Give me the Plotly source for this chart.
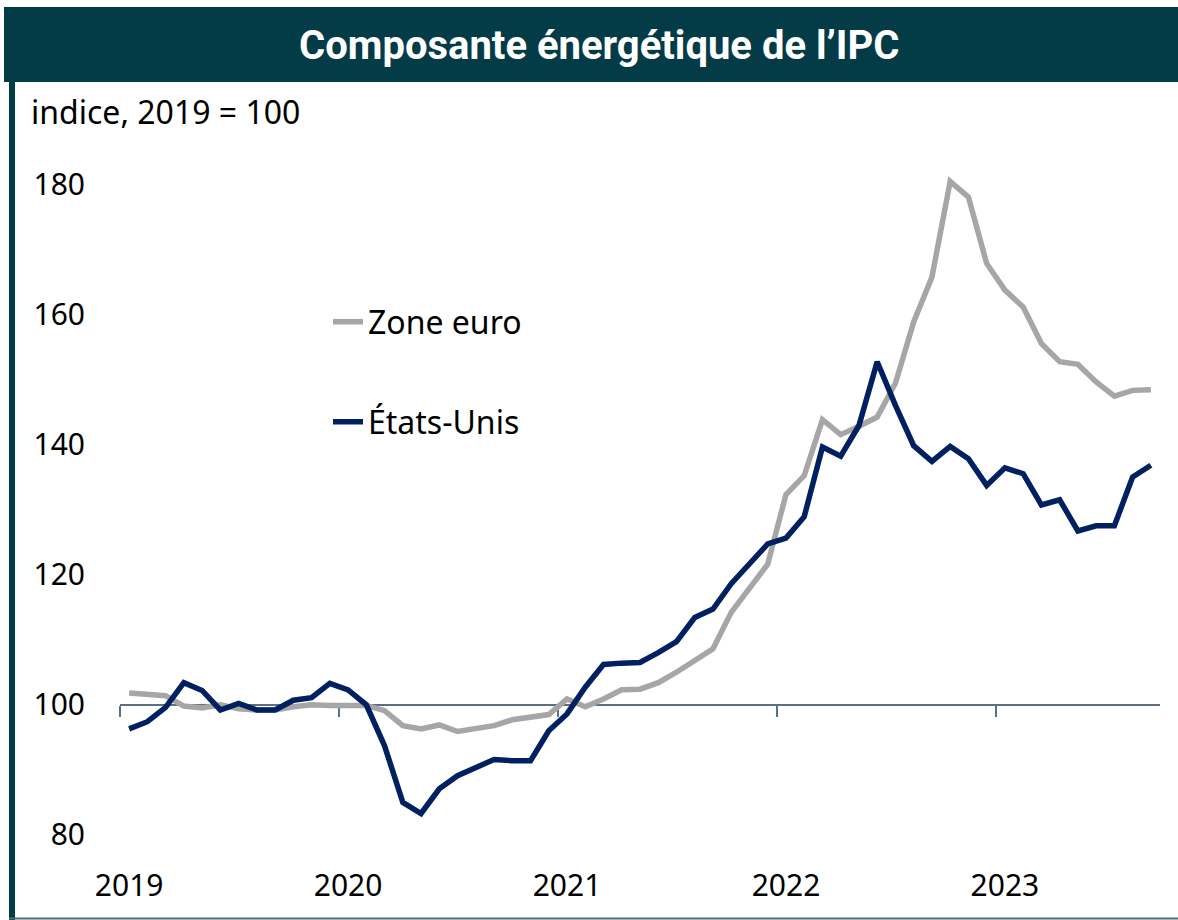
import plotly.graph_objects as go

# ---- data (monthly, Jan 2019 - Sep 2023) ----
years = ["2019", "2020", "2021", "2022", "2023"]
zone_euro = [101.8, 101.6, 101.4, 99.8, 99.5, 100.0, 99.4, 99.2, 99.2, 99.7, 100.0, 99.9,
             100.0, 99.9, 99.1, 96.8, 96.3, 96.9, 95.9, 96.3, 96.8, 97.7, 98.1, 98.5,
             100.9, 99.7, 100.9, 102.3, 102.4, 103.4, 105.0, 106.7, 108.6, 114.2, 117.8, 121.6,
             132.3, 135.2, 143.8, 141.5, 142.8, 144.2, 149.4, 158.8, 165.7, 180.4, 178.0, 167.8,
             163.7, 161.1, 155.5, 152.7, 152.3, 149.6, 147.4, 148.3, 148.4]
etats_unis = [96.3, 97.4, 99.6, 103.4, 102.2, 99.2, 100.2, 99.2, 99.2, 100.7, 101.1, 103.3,
              102.3, 100.0, 93.7, 85.0, 83.3, 87.1, 89.1, 90.4, 91.6, 91.4, 91.4, 96.0,
              98.6, 102.7, 106.2, 106.4, 106.5, 108.0, 109.7, 113.4, 114.7, 118.6, 121.6, 124.7,
              125.6, 128.9, 139.6, 138.2, 142.9, 152.7, 146.0, 139.8, 137.4, 139.7, 137.8, 133.7,
              136.4, 135.5, 130.7, 131.5, 126.7, 127.5, 127.5, 135.0, 136.8]
y_ticks = [80, 100, 120, 140, 160, 180]

n = len(etats_unis)
x_idx = list(range(n))
year_label_pos = [12 * k for k in range(len(years))]
year_bounds = [12 * k - 0.5 for k in range(len(years))]

W, H = 1178, 920
ML, MR, MT, MB = 120, 18, 171, 72
Y_RANGE = [78, 182]
X_RANGE = [-0.5, n - 0.5]

def px_x(p):
    return (p - ML) / (W - ML - MR)

def px_y(p):
    return (H - MB - p) / (H - MT - MB)

TEAL = "#033b47"
GREY = "#a6a6a6"
NAVY = "#002060"
AXIS = "#5b7083"
FONT = "Noto Sans"

fig = go.Figure()
# carrier for the crossing axis at 100
fig.add_trace(go.Scatter(x=[0], y=[None], xaxis="x2", mode="lines", showlegend=False,
                         hoverinfo="skip"))
fig.add_trace(go.Scatter(x=x_idx, y=zone_euro, mode="lines", name="Zone euro",
                         line=dict(color=GREY, width=5.5), legend="legend"))
fig.add_trace(go.Scatter(x=x_idx, y=etats_unis, mode="lines", name="États-Unis",
                         line=dict(color=NAVY, width=5.5), legend="legend2"))

# title bar, frame
fig.add_shape(type="rect", xref="paper", yref="paper",
              x0=px_x(4), x1=px_x(1180), y0=px_y(82), y1=px_y(7),
              fillcolor=TEAL, line=dict(width=0), layer="below")
fig.add_shape(type="rect", xref="paper", yref="paper",
              x0=px_x(9), x1=px_x(15), y0=px_y(920), y1=px_y(82),
              fillcolor=TEAL, line=dict(width=0), layer="below")
fig.add_shape(type="line", xref="paper", yref="paper",
              x0=px_x(9), x1=px_x(1180), y0=px_y(918.5), y1=px_y(918.5),
              line=dict(color="#4f6b77", width=2), layer="below")

fig.add_annotation(text="<b>Composante énergétique de l’IPC</b>", xref="paper", yref="paper",
                   x=px_x(599), y=px_y(45), xanchor="center", yanchor="middle", showarrow=False,
                   font=dict(family="Roboto", size=40, color="white"))
fig.add_annotation(text="indice, 2019 = 100", xref="paper", yref="paper",
                   x=px_x(29), y=px_y(112), xanchor="left", yanchor="middle", showarrow=False,
                   font=dict(family=FONT, size=32, color="black"))

fig.update_layout(
    width=W, height=H, autosize=False,
    margin=dict(l=ML, r=MR, t=MT, b=MB),
    paper_bgcolor="white", plot_bgcolor="white",
    font=dict(family=FONT, size=30, color="black"),
    showlegend=True,
    legend=dict(x=px_x(328), y=px_y(322), xanchor="left", yanchor="middle",
                bgcolor="rgba(0,0,0,0)", font=dict(family=FONT, size=32, color="black")),
    legend2=dict(x=px_x(328), y=px_y(422), xanchor="left", yanchor="middle",
                 bgcolor="rgba(0,0,0,0)", font=dict(family=FONT, size=32, color="black")),
    xaxis=dict(range=X_RANGE, tickvals=year_label_pos, ticktext=years,
               showgrid=False, zeroline=False, showline=False, ticks="",
               tickfont=dict(family=FONT, size=30), ticklabelstandoff=17),
    xaxis2=dict(range=X_RANGE, overlaying="x", anchor="free",
                position=(100 - Y_RANGE[0]) / (Y_RANGE[1] - Y_RANGE[0]),
                tickvals=year_bounds, showticklabels=False, ticks="outside",
                ticklen=11, tickwidth=2, tickcolor=AXIS,
                showline=True, linecolor=AXIS, linewidth=2,
                showgrid=False, zeroline=False, layer="below traces"),
    yaxis=dict(range=Y_RANGE, tickvals=y_ticks, showgrid=False, zeroline=False,
               showline=False, ticks="", tickfont=dict(family=FONT, size=30),
               ticklabelstandoff=34),
)

fig.write_html("out.html", config={"displayModeBar": False},
               post_script="document.body.style.margin='0';")
